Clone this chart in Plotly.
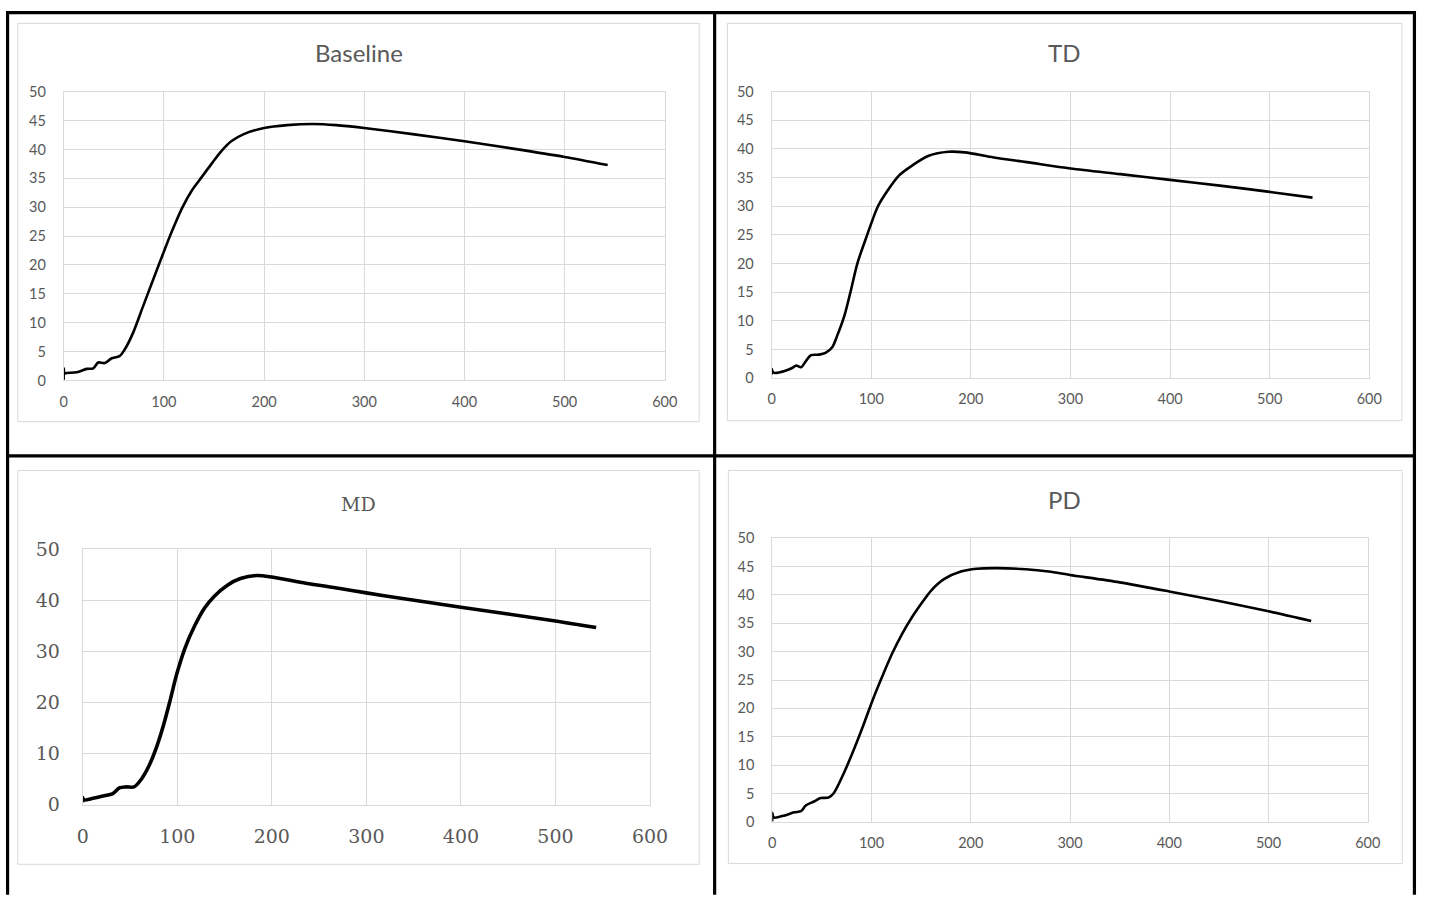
import plotly.graph_objects as go

# The page body keeps an 8px margin, so the figure is sized to fit the 1450x914 window exactly.
OFF = 8
FW, FH = 1450 - 2 * OFF, 914 - 2 * OFF

# ---------------- data ----------------
baseline_x = [0, 0, 0.8, 3, 13, 23, 29.5, 34.4, 41, 47.5, 55.7, 60.7, 68.9, 78.7, 88.5, 98.4, 108.2, 118,
              127.9, 137.7, 147.5, 157.4, 167.2, 180.3, 200, 223, 249, 272, 300, 350, 400, 450, 500, 543]
baseline_y = [0.1, 2.1, 1.2, 1.3, 1.4, 2.0, 2.1, 3.1, 3.0, 3.8, 4.2, 5.3, 8.1, 12.6, 17.1, 21.6, 25.9, 29.8,
              32.9, 35.2, 37.5, 39.7, 41.4, 42.7, 43.7, 44.2, 44.4, 44.2, 43.7, 42.6, 41.4, 40.1, 38.7, 37.3]

td_x = [0, 0, 1, 3.3, 13, 21, 24.6, 29.6, 34.5, 39.4, 47.6, 54, 60.8, 66, 73.2, 79.5, 86, 95.9,
        106.7, 116.6, 128, 141, 157.6, 177.3, 193.8, 223, 256, 300, 350, 400, 450, 500, 543]
td_y = [0.6, 1.6, 1.1, 0.9, 1.25, 1.8, 2.2, 1.9, 3.0, 4.0, 4.1, 4.4, 5.4, 7.5, 11.0, 15.3, 20.0, 25.0,
        30.0, 32.8, 35.4, 37.1, 38.8, 39.5, 39.4, 38.5, 37.7, 36.6, 35.6, 34.6, 33.6, 32.5, 31.5]

md_x = [0, 0, 1, 11, 21.5, 31.8, 38.8, 45.7, 54.3, 61.2, 70, 78.5, 85.5, 92.4, 99.3, 108, 118.3, 128.7,
        139, 153, 166.8, 184, 200, 236, 270.6, 300, 324, 400, 500, 543]
md_y = [0.5, 1.4, 0.95, 1.27, 1.7, 2.2, 3.3, 3.5, 3.5, 4.8, 7.6, 11.5, 15.6, 20.4, 25.5, 30.6, 35.0, 38.5,
        40.8, 43.0, 44.3, 44.9, 44.6, 43.4, 42.4, 41.5, 40.8, 38.7, 36.0, 34.7]

pd_x = [0, 0, 1, 2.6, 12.5, 22.3, 29, 33.8, 42, 48.6, 56.8, 61.7, 71.6, 81.4, 91.3, 101, 111, 120.9,
        130.7, 140.6, 150.4, 160.3, 173.4, 190, 206, 226, 255.5, 278.5, 300, 350, 400, 450, 500, 543]
pd_y = [0.1, 1.6, 0.9, 0.75, 1.15, 1.7, 1.9, 2.9, 3.6, 4.2, 4.3, 5.0, 8.4, 12.4, 16.8, 21.4, 25.7, 29.7,
        33.1, 36.0, 38.5, 40.8, 42.8, 44.1, 44.6, 44.7, 44.5, 44.1, 43.5, 42.2, 40.6, 38.9, 37.1, 35.4]

titles = ["Baseline", "TD", "MD", "PD"]
x_ticks = [0, 100, 200, 300, 400, 500, 600]


def px(x):
    return (x - OFF) / FW


def py(y):
    return 1 - (y - OFF) / FH


# plot areas in window pixels: (left, right, top, bottom)
areas = [
    (66.7, 678.0, 90.7, 386.7),
    (786.7, 1394.5, 90.7, 384.3),
    (86.0, 663.0, 560.0, 821.7),
    (787.3, 1393.0, 548.3, 839.3),
]
series = [(baseline_x, baseline_y), (td_x, td_y), (md_x, md_y), (pd_x, pd_y)]
widths = [2.6, 2.6, 3.6, 2.6]

GRID = "#d9d9d9"
TXT = "#595959"
sans = "Lato"
serif = "DejaVu Serif"

fig = go.Figure()
layout = dict(width=FW, height=FH, margin=dict(l=0, r=0, t=0, b=0),
              paper_bgcolor="white", plot_bgcolor="white", showlegend=False)

for i, ((xs, ys), (l, r, t, b)) in enumerate(zip(series, areas)):
    n = "" if i == 0 else str(i + 1)
    fig.add_trace(go.Scatter(x=xs, y=ys, mode="lines", xaxis="x" + n, yaxis="y" + n,
                             line=dict(color="black", width=widths[i], shape="spline", smoothing=0.8),
                             hoverinfo="skip"))
    is_md = (i == 2)
    fnt = dict(family=serif if is_md else sans, size=19 if is_md else 14.5, color=TXT)
    layout["xaxis" + n] = dict(domain=[px(l), px(r)], range=[0, 600], tickvals=x_ticks,
                               showgrid=True, gridcolor=GRID, gridwidth=1, zeroline=False,
                               showline=True, linecolor=GRID, linewidth=1, mirror=True,
                               ticks="", tickfont=fnt, ticklabelstandoff=14 if is_md else 8,
                               anchor="y" + n, fixedrange=True)
    layout["yaxis" + n] = dict(domain=[py(b), py(t)], range=[0, 50], dtick=10 if is_md else 5,
                               showgrid=True, gridcolor=GRID, gridwidth=1, zeroline=False,
                               showline=True, linecolor=GRID, linewidth=1, mirror=True,
                               ticks="", tickfont=fnt, ticklabelstandoff=18 if is_md else 14,
                               anchor="x" + n, fixedrange=True)

fig.update_layout(**layout)

# titles
title_pos = [(366.5, 51, sans, 24), (1084.5, 51, sans, 24), (366.5, 513, serif, 19), (1085, 509, sans, 24)]
for txt, (x, y, fam, sz) in zip(titles, title_pos):
    fig.add_annotation(text=txt, x=px(x), y=py(y), xref="paper", yref="paper", showarrow=False,
                       xanchor="center", yanchor="middle", font=dict(family=fam, size=sz, color=TXT))

# chart boxes (light gray)
boxes = [(20, 713, 20.7, 429), (741.7, 1427.7, 20.7, 428), (20, 713, 479, 882.7), (742.7, 1428, 479, 882)]
for (l, r, t, b) in boxes:
    fig.add_shape(type="rect", xref="paper", yref="paper", x0=px(l), x1=px(r), y0=py(b), y1=py(t),
                  line=dict(color=GRID, width=1), fillcolor="rgba(0,0,0,0)", layer="below")

# table borders (black); outer ones kept just inside the figure edge
lines = [
    (9.6, 8, 9.6, 914), (728.7, 8, 728.7, 914), (1440.4, 8, 1440.4, 914),
    (8, 9.6, 1442, 9.6), (8, 464, 1442, 464),
]
for (x0, y0, x1, y1) in lines:
    fig.add_shape(type="line", xref="paper", yref="paper", x0=px(x0), y0=py(y0), x1=px(x1), y1=py(y1),
                  line=dict(color="black", width=3.2))

fig.write_html("out.html")
